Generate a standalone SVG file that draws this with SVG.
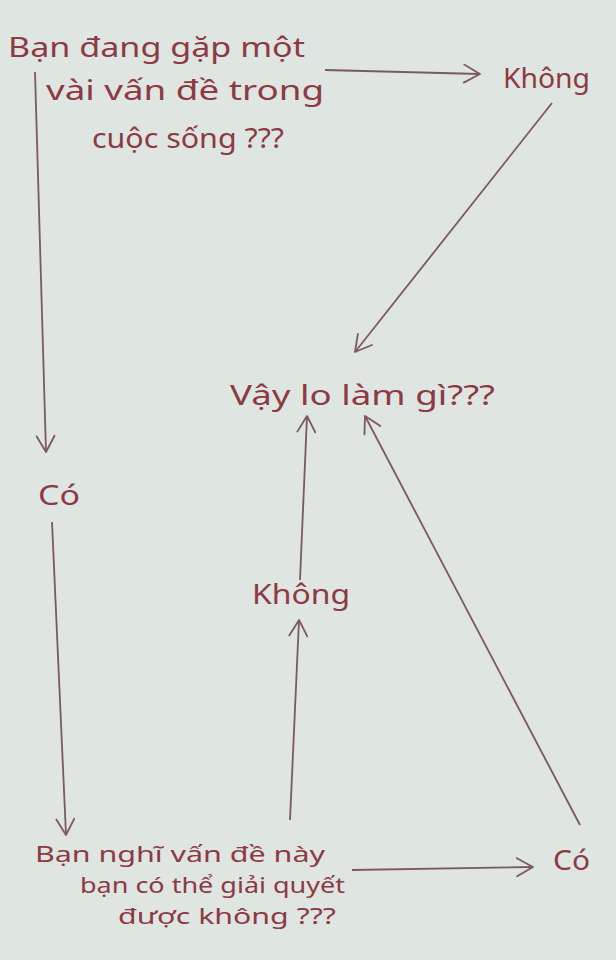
<svg xmlns="http://www.w3.org/2000/svg" width="616" height="960" viewBox="0 0 616 960">
<defs>
<style>
.t{font-family:"Noto Sans","DejaVu Sans",sans-serif;fill:#8c3a44;font-size:27px}
.s{font-size:22px}
.c line{stroke:#7c5a5c;stroke-width:1.8;fill:none}
</style>
<marker id="a" viewBox="0 0 20 20" refX="18" refY="10" markerWidth="20" markerHeight="20" markerUnits="userSpaceOnUse" orient="auto">
<path d="M2 1 L18 10 L2 19" fill="none" stroke="#7c5a5c" stroke-width="1.8" stroke-linecap="round" stroke-linejoin="round"/>
</marker>
</defs>
<rect width="616" height="960" fill="#dfe5e0"/>
<g class="c" id="connectors">
<line x1="325" y1="70" x2="480" y2="74" marker-end="url(#a)"/>
<line x1="552" y1="103" x2="355" y2="352" marker-end="url(#a)"/>
<line x1="35" y1="72" x2="46" y2="452" marker-end="url(#a)"/>
<line x1="52" y1="522" x2="66" y2="835" marker-end="url(#a)"/>
<line x1="352" y1="870" x2="533" y2="867" marker-end="url(#a)"/>
<line x1="290" y1="820" x2="299" y2="620" marker-end="url(#a)"/>
<line x1="300" y1="580" x2="307" y2="416" marker-end="url(#a)"/>
<line x1="580" y1="825" x2="365" y2="416" marker-end="url(#a)"/>
</g>
<g id="start">
<text class="t" x="8" y="57" textLength="297" lengthAdjust="spacingAndGlyphs" font-size="30">Bạn đang gặp một</text>
<text class="t" x="46" y="100" textLength="278" lengthAdjust="spacingAndGlyphs">vài vấn đề trong</text>
<text class="t" x="92" y="148" textLength="192" lengthAdjust="spacingAndGlyphs">cuộc sống ???</text>
</g>
<g id="khong1"><text class="t" x="503" y="88" textLength="87" lengthAdjust="spacingAndGlyphs">Không</text></g>
<g id="vaylo"><text class="t" x="230" y="405" textLength="265" lengthAdjust="spacingAndGlyphs">Vậy lo làm gì???</text></g>
<g id="co1"><text class="t" x="38" y="505" textLength="42" lengthAdjust="spacingAndGlyphs">Có</text></g>
<g id="khong2"><text class="t" x="252" y="604" textLength="98" lengthAdjust="spacingAndGlyphs">Không</text></g>
<g id="question">
<text class="t s" x="35" y="862" textLength="290" lengthAdjust="spacingAndGlyphs">Bạn nghĩ vấn đề này</text>
<text class="t s" x="80" y="893" textLength="265" lengthAdjust="spacingAndGlyphs">bạn có thể giải quyết</text>
<text class="t s" x="118" y="924" textLength="218" lengthAdjust="spacingAndGlyphs">được không ???</text>
</g>
<g id="co2"><text class="t" x="553" y="870" textLength="37" lengthAdjust="spacingAndGlyphs" font-size="25">Có</text></g>
</svg>
